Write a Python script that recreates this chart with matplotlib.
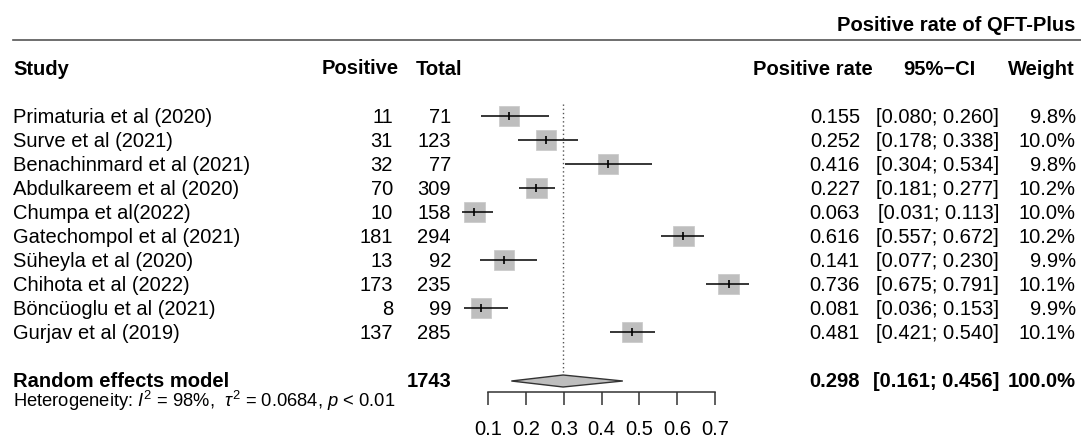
import numpy as np
import matplotlib.pyplot as plt
from matplotlib.patches import Polygon

plt.rcParams['font.family'] = ['Liberation Sans', 'DejaVu Sans']
plt.rcParams['mathtext.fontset'] = 'custom'
plt.rcParams['mathtext.rm'] = 'Liberation Sans'
plt.rcParams['mathtext.it'] = 'Liberation Sans:italic'

studies = ["Primaturia et al (2020)", "Surve et al (2021)", "Benachinmard et al (2021)",
           "Abdulkareem et al (2020)", "Chumpa et al(2022)", "Gatechompol et al (2021)",
           "Süheyla et al (2020)", "Chihota et al (2022)", "Böncüoglu et al (2021)",
           "Gurjav et al (2019)"]
positive = [11, 31, 32, 70, 10, 181, 13, 173, 8, 137]
total = [71, 123, 77, 309, 158, 294, 92, 235, 99, 285]
rate = [0.155, 0.252, 0.416, 0.227, 0.063, 0.616, 0.141, 0.736, 0.081, 0.481]
ci_lo = [0.080, 0.178, 0.304, 0.181, 0.031, 0.557, 0.077, 0.675, 0.036, 0.421]
ci_hi = [0.260, 0.338, 0.534, 0.277, 0.113, 0.672, 0.230, 0.791, 0.153, 0.540]
weight = [9.8, 10.0, 9.8, 10.2, 10.0, 10.2, 9.9, 10.1, 9.9, 10.1]

pooled_total = 1743
pooled_rate, pooled_lo, pooled_hi = 0.298, 0.161, 0.456
xticks = [0.1, 0.2, 0.3, 0.4, 0.5, 0.6, 0.7]

W, H = 1081, 438
fig = plt.figure(figsize=(W / 100, H / 100), dpi=100)

# rows are 24 px apart; row 1 sits at y = 117 px
y_top, y_bot = -93 / 24, (H - 93) / 24
rows = np.arange(1, len(studies) + 1)
y_pool = 12.0

# text table on a full-figure axes, x in pixels
tab = fig.add_axes([0, 0, 1, 1])
tab.set_xlim(0, W)
tab.set_ylim(y_bot, y_top)
tab.axis('off')

# forest panel
x0, x1 = 488.3, 715.0
ax = fig.add_axes([x0 / W, 0, (x1 - x0) / W, 1], sharey=tab)
ax.set_xlim(0.1, 0.7)
ax.patch.set_alpha(0)

fs = 14.5
tab.text(1075, -2.82, "Positive rate of QFT-Plus", ha='right', va='center',
         fontsize=fs, fontweight='bold')
tab.plot([13, W], [-2.2, -2.2], color='#555555', lw=1.2, clip_on=False)

hy = -0.97
tab.text(13, hy, "Study", ha='left', va='center', fontsize=fs, fontweight='bold')
tab.text(399, hy - 0.05, "Positive", ha='right', va='center', fontsize=fs, fontweight='bold')
tab.text(462, hy, "Total", ha='right', va='center', fontsize=fs, fontweight='bold')
tab.text(873, hy, "Positive rate", ha='right', va='center', fontsize=fs, fontweight='bold')
tab.text(939, hy, "95%\u2212CI", ha='center', va='center', fontsize=fs, fontweight='bold')
tab.text(1075, hy, "Weight", ha='right', va='center', fontsize=fs, fontweight='bold')

for y, s, p, n, r, lo, hi, w in zip(rows, studies, positive, total, rate, ci_lo, ci_hi, weight):
    tab.text(13, y, s, ha='left', va='center', fontsize=fs)
    tab.text(393, y, str(p), ha='right', va='center', fontsize=fs)
    tab.text(451, y, str(n), ha='right', va='center', fontsize=fs)
    tab.text(860, y, f"{r:.3f}", ha='right', va='center', fontsize=fs)
    tab.text(999, y, f"[{lo:.3f}; {hi:.3f}]", ha='right', va='center', fontsize=fs)
    tab.text(1076, y, f"{w:.1f}%", ha='right', va='center', fontsize=fs)

# squares sized by weight, CI lines and estimate ticks
ym = rows - 0.05
ax.scatter(rate, ym, marker='s', s=[215 * w / 10 for w in weight],
           color='#bebebe', edgecolor='#c8c8c8', lw=0.5, zorder=2, clip_on=False)
ax.hlines(ym, ci_lo, ci_hi, color='black', lw=1.1, zorder=3, clip_on=False)
ax.scatter(rate, ym, marker='|', s=30, color='black', lw=1.2, zorder=4, clip_on=False)

# pooled estimate
ax.vlines(pooled_rate, 0.45, y_pool - 0.33, color='#555555', lw=1, linestyles=(0, (1, 2)))
diamond = Polygon([(pooled_lo, y_pool), (pooled_rate, y_pool - 0.25),
                   (pooled_hi, y_pool), (pooled_rate, y_pool + 0.25)],
                  closed=True, facecolor='#bebebe', edgecolor='#333333', lw=1, zorder=3)
ax.add_patch(diamond)

tab.text(13, y_pool, "Random effects model", ha='left', va='center',
         fontsize=fs, fontweight='bold')
tab.text(452, y_pool, str(pooled_total), ha='right', va='center',
         fontsize=fs, fontweight='bold')
tab.text(860, y_pool, f"{pooled_rate:.3f}", ha='right', va='center',
         fontsize=fs, fontweight='bold')
tab.text(999, y_pool, f"[{pooled_lo:.3f}; {pooled_hi:.3f}]", ha='right',
         va='center', fontsize=fs, fontweight='bold')
tab.text(1076, y_pool, "100.0%", ha='right', va='center', fontsize=fs,
         fontweight='bold')
tab.text(13, y_pool + 0.82, r"Heterogeneity: $I^2$ = 98%,  $\tau^2$ = 0.0684, $p$ < 0.01",
         ha='left', va='center', fontsize=13.2)

# x axis drawn at the bottom of the forest panel
for side in ['top', 'right', 'left']:
    ax.spines[side].set_visible(False)
ax.spines['bottom'].set_position(('data', 12.46))
ax.spines['bottom'].set_bounds(0.1, 0.7)
ax.spines['bottom'].set_color('#333333')
ax.spines['bottom'].set_linewidth(1.1)
ax.set_xticks(xticks)
ax.set_xticklabels([f"{t:.1f}" for t in xticks])
ax.tick_params(axis='x', direction='out', length=9, width=1.1, color='#333333',
               labelsize=fs, pad=11)
ax.set_yticks([])

fig.savefig('out.png', dpi=100)
